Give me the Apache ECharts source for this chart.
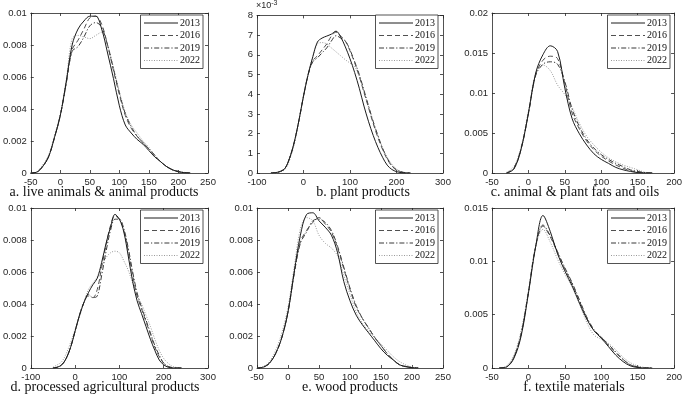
<!DOCTYPE html>
<html>
<head>
<meta charset="utf-8">
<script src="https://cdn.jsdelivr.net/npm/echarts@6/dist/echarts.min.js"></script>
<style>
  html, body { margin: 0; padding: 0; background: #fff; }
  #main { width: 685px; height: 399px; }
</style>
</head>
<body>
<div id="main"></div>
<script>
// years shown in every legend
const years = ['2013', '2016', '2019', '2022'];

// a. live animals & animal products
const xA = [-50,-40,-30,-20,-10,0,10,20,30,40,50,60,70,80,90,100,110,120,130,140,150,160,170,180,190,200,210,220];
const a2013 = [0,0.00005,0.0004,0.0010,0.0022,0.0036,0.0057,0.0080,0.0090,0.0095,0.0098,0.0098,0.0090,0.0075,0.0059,0.0042,0.0030,0.0025,0.0021,0.0018,0.0014,0.0010,0.0007,0.0004,0.0002,0.00007,0.00002,0];
const a2016 = [0,0.00005,0.0004,0.0010,0.0022,0.0036,0.0056,0.0077,0.0083,0.0090,0.0097,0.0098,0.0093,0.0080,0.0064,0.0049,0.0036,0.0028,0.0023,0.0019,0.0015,0.0011,0.0007,0.0004,0.0002,0.0001,0.00003,0];
const a2019 = [0,0.00005,0.0004,0.0010,0.0022,0.0036,0.0056,0.0076,0.0079,0.0085,0.0092,0.0094,0.0091,0.0080,0.0065,0.0050,0.0037,0.0029,0.0023,0.0019,0.0015,0.0011,0.0007,0.0004,0.0002,0.0001,0.00003,0];
const a2022 = [0,0.00008,0.0005,0.0011,0.0023,0.0037,0.0058,0.0084,0.0086,0.0085,0.0084,0.0086,0.0088,0.0080,0.0066,0.0051,0.0038,0.0030,0.0025,0.0020,0.0016,0.0011,0.0007,0.0004,0.0002,0.0001,0.00004,0];

// b. plant products (values in 10^-3)
const xB = [-70,-60,-50,-40,-30,-20,-10,0,10,20,30,40,50,60,70,80,90,100,110,120,130,140,150,160,170,180,190,200,210,220,230];
const b2013 = [0,0.02,0.08,0.23,0.75,1.55,2.65,3.9,5.0,5.9,6.65,6.85,6.95,7.05,7.2,6.9,6.4,5.8,5.1,4.3,3.4,2.6,1.9,1.3,0.8,0.4,0.18,0.07,0.02,0,0];
const b2016 = [0,0.02,0.08,0.23,0.75,1.55,2.65,3.9,5.0,5.7,5.95,6.25,6.55,6.95,7.15,6.95,6.7,6.2,5.6,4.9,4.1,3.3,2.5,1.8,1.2,0.7,0.35,0.15,0.05,0.01,0];
const b2019 = [0,0.02,0.08,0.23,0.75,1.55,2.65,3.9,5.0,5.65,5.85,6.1,6.35,6.7,6.97,6.85,6.7,6.25,5.65,5.0,4.2,3.4,2.6,1.9,1.25,0.75,0.38,0.16,0.06,0.01,0];
const b2022 = [0,0.01,0.05,0.18,0.65,1.45,2.6,3.9,5.0,5.9,6.55,6.62,6.55,6.35,6.15,5.95,5.75,5.58,5.4,4.9,4.1,3.35,2.6,1.9,1.3,0.8,0.45,0.2,0.08,0.02,0];

// c. animal & plant fats and oils
const xC = [-30,-20,-10,0,10,20,30,40,50,60,70,80,90,100,110,120,130,140,150,160,170];
const c2013 = [0,0.0005,0.0030,0.0075,0.0125,0.0148,0.0159,0.0152,0.0106,0.0068,0.0049,0.0035,0.0024,0.0017,0.0012,0.0007,0.0004,0.0002,0.00005,0,0];
const c2016 = [0,0.0005,0.0030,0.0074,0.0123,0.0141,0.0146,0.0143,0.0112,0.0075,0.0055,0.0040,0.0029,0.0021,0.0015,0.0010,0.0006,0.0003,0.0001,0.00003,0];
const c2019 = [0,0.0006,0.0031,0.0074,0.0122,0.0136,0.0139,0.0136,0.0114,0.0080,0.0058,0.0042,0.0031,0.0023,0.0017,0.0012,0.0008,0.0004,0.0002,0.00005,0];
const c2022 = [0.0001,0.0008,0.0033,0.0077,0.0124,0.0135,0.0128,0.0110,0.0098,0.0082,0.0062,0.0046,0.0035,0.0026,0.0019,0.0014,0.0010,0.0007,0.0004,0.0001,0];

// d. processed agricultural products
const xD = [-50,-40,-30,-20,-10,0,10,20,30,40,50,60,70,80,90,100,110,120,130,140,150,160,170,180,190,200,210,220,230,240];
const d2013 = [0,0.00005,0.0002,0.0006,0.0013,0.0023,0.0033,0.0041,0.0047,0.0052,0.0056,0.0066,0.0078,0.0088,0.0096,0.0093,0.0085,0.0070,0.0054,0.0042,0.0034,0.0026,0.0018,0.0011,0.0005,0.0002,0.00005,0,0,0];
const d2016 = [0,0.00005,0.0002,0.0006,0.0013,0.0023,0.0033,0.0041,0.0045,0.0044,0.0049,0.0063,0.0077,0.0089,0.0095,0.0093,0.0086,0.0073,0.0058,0.0045,0.0037,0.0029,0.0021,0.0013,0.0007,0.0003,0.0001,0.00002,0,0];
const d2019 = [0,0.00005,0.0002,0.0006,0.0013,0.0023,0.0033,0.0041,0.0046,0.0044,0.0045,0.0058,0.0073,0.0086,0.0093,0.0093,0.0087,0.0075,0.0060,0.0047,0.0038,0.0030,0.0022,0.0014,0.0008,0.0003,0.0001,0.00002,0,0];
const d2022 = [0.00005,0.0002,0.0004,0.0009,0.0016,0.0024,0.0032,0.0041,0.0049,0.0053,0.0057,0.0064,0.0069,0.0072,0.0073,0.0072,0.0067,0.0061,0.0053,0.0045,0.0040,0.0033,0.0026,0.0018,0.0011,0.0006,0.0003,0.0001,0.00003,0];

// e. wood products
const xE = [-50,-40,-30,-20,-10,0,10,20,30,40,50,60,70,80,90,100,110,120,130,140,150,160,170,180,190,200,210];
const e2013 = [0,0.00005,0.0003,0.0009,0.0019,0.0035,0.0060,0.0083,0.0096,0.0097,0.0092,0.0088,0.0083,0.0072,0.0054,0.0042,0.0033,0.0027,0.0022,0.0017,0.0012,0.0008,0.0005,0.0002,0.00008,0.00002,0];
const e2016 = [0,0.00005,0.0003,0.0009,0.0019,0.0035,0.0059,0.0079,0.0086,0.0091,0.0094,0.0090,0.0085,0.0075,0.0062,0.0049,0.0038,0.0031,0.0025,0.0019,0.0014,0.0009,0.0005,0.0002,0.0001,0.00003,0];
const e2019 = [0,0.00005,0.0003,0.0009,0.0019,0.0035,0.0059,0.0078,0.0085,0.0092,0.0093,0.0091,0.0086,0.0076,0.0063,0.0050,0.0039,0.0031,0.0025,0.0019,0.0014,0.0009,0.0005,0.0002,0.0001,0.00003,0];
const e2022 = [0,0.0001,0.0004,0.0011,0.0022,0.0038,0.0063,0.0087,0.0094,0.0092,0.0083,0.0078,0.0075,0.0070,0.0058,0.0046,0.0035,0.0028,0.0023,0.0019,0.0015,0.0011,0.0007,0.0004,0.0002,0.00006,0];

// f. textile materials
const xF = [-40,-30,-20,-10,0,10,20,30,40,50,60,70,80,90,100,110,120,130,140,150,160,170];
const f2013 = [0,0.0001,0.0009,0.0030,0.0070,0.0114,0.0143,0.0128,0.0107,0.0091,0.0077,0.0061,0.0046,0.0035,0.0028,0.0020,0.0012,0.0006,0.0002,0.00005,0,0];
const f2016 = [0,0.0001,0.0010,0.0032,0.0071,0.0114,0.0133,0.0123,0.0108,0.0093,0.0079,0.0063,0.0047,0.0035,0.0029,0.0021,0.0014,0.0008,0.0003,0.0001,0,0];
const f2019 = [0,0.0001,0.0010,0.0032,0.0071,0.0114,0.0134,0.0124,0.0109,0.0094,0.0080,0.0064,0.0048,0.0036,0.0029,0.0022,0.0015,0.0008,0.0003,0.0001,0,0];
const f2022 = [0,0.0002,0.0012,0.0035,0.0072,0.0114,0.0130,0.0118,0.0102,0.0088,0.0076,0.0060,0.0043,0.0031,0.0027,0.0023,0.0017,0.0010,0.0005,0.0002,0.00005,0];

const panels = [
  { title: 'a. live animals & animal products', x: xA, ys: [a2013, a2016, a2019, a2022], xr: [-50, 250, 50], yr: [0, 0.01, 0.002] },
  { title: 'b. plant products', x: xB, ys: [b2013, b2016, b2019, b2022], xr: [-100, 300, 100], yr: [0, 8, 1], exp: true },
  { title: 'c. animal & plant fats and oils', x: xC, ys: [c2013, c2016, c2019, c2022], xr: [-50, 200, 50], yr: [0, 0.02, 0.005] },
  { title: 'd. processed agricultural products', x: xD, ys: [d2013, d2016, d2019, d2022], xr: [-100, 300, 100], yr: [0, 0.01, 0.002] },
  { title: 'e. wood products', x: xE, ys: [e2013, e2016, e2019, e2022], xr: [-50, 250, 50], yr: [0, 0.01, 0.002] },
  { title: 'f. textile materials', x: xF, ys: [f2013, f2016, f2019, f2022], xr: [-50, 200, 50], yr: [0, 0.015, 0.005] }
];

// plot boxes: left, top, width, height, title centre x
const boxes = [
  [26, 13, 182, 160, 104],
  [257, 13, 186, 160, 363],
  [492, 13, 183, 160, 575],
  [26, 208, 182, 160, 105],
  [257, 208, 186, 160, 350],
  [492, 208, 183, 160, 574]
];

const lineLooks = [
  { color: '#1c1c1c', width: 1, type: 'solid' },
  { color: '#505050', width: 1, type: [5, 3] },
  { color: '#383838', width: 1, type: [5, 2, 1.2, 2] },
  { color: '#9a9a9a', width: 1, type: [1, 1.5] }
];

const axisCol = '#262626';
const sans = '"Liberation Sans", Arial, sans-serif';
const serif = '"Liberation Serif", "Times New Roman", serif';

let grid = [], xAxis = [], yAxis = [], series = [], legend = [], graphic = [];

panels.forEach(function (p, i) {
  const b = boxes[i];
  grid.push({ left: b[0], top: b[1], width: b[2], height: b[3], containLabel: false });

  const xBase = {
    type: 'value', gridIndex: i, min: p.xr[0], max: p.xr[1], interval: p.xr[2],
    splitLine: { show: false },
    axisLine: { show: true, onZero: false, lineStyle: { color: axisCol, width: 0.8 } },
    axisTick: { show: true, inside: true, length: 3, lineStyle: { color: axisCol, width: 0.8 } }
  };
  xAxis.push(Object.assign({}, xBase, {
    position: 'bottom',
    axisLabel: { show: true, color: axisCol, fontSize: 9.5, fontFamily: sans, margin: 4 }
  }));
  xAxis.push(Object.assign({}, xBase, { position: 'top', axisLabel: { show: false } }));

  const yBase = {
    type: 'value', gridIndex: i, min: p.yr[0], max: p.yr[1], interval: p.yr[2],
    splitLine: { show: false },
    axisLine: { show: true, onZero: false, lineStyle: { color: axisCol, width: 0.8 } },
    axisTick: { show: true, inside: true, length: 3, lineStyle: { color: axisCol, width: 0.8 } }
  };
  const yLeft = Object.assign({}, yBase, {
    position: 'left',
    axisLabel: { show: true, color: axisCol, fontSize: 9.5, fontFamily: sans, margin: 4 }
  });
  if (p.exp) {
    yLeft.name = '×10{s|-3}';
    yLeft.nameLocation = 'end';
    yLeft.nameGap = 3;
    yLeft.nameTextStyle = {
      align: 'left', color: axisCol, fontSize: 9, fontFamily: sans, padding: [0, 0, 0, -1],
      rich: { s: { fontSize: 7, verticalAlign: 'top', padding: [0, 0, 5, 0], color: axisCol, fontFamily: sans } }
    };
  }
  yAxis.push(yLeft);
  yAxis.push(Object.assign({}, yBase, { position: 'right', axisLabel: { show: false } }));

  years.forEach(function (yr, k) {
    series.push({
      name: yr,
      type: 'line',
      xAxisIndex: 2 * i,
      yAxisIndex: 2 * i,
      data: p.x.map(function (xv, j) { return [xv, p.ys[k][j]]; }),
      symbol: 'none',
      showSymbol: false,
      smooth: 0.35,
      lineStyle: lineLooks[k],
      itemStyle: { color: lineLooks[k].color, opacity: 0 },
      z: 10 - k
    });
  });

  legend.push({
    data: years,
    orient: 'vertical',
    right: 685 - (b[0] + b[2]) + 5,
    top: b[1] + 2,
    itemWidth: 34,
    itemHeight: 10,
    itemGap: 2.5,
    padding: [3, 3, 3, 3],
    backgroundColor: '#fff',
    borderColor: axisCol,
    borderWidth: 0.8,
    borderRadius: 0,
    selectedMode: false,
    itemStyle: { opacity: 0, borderWidth: 0 },
    lineStyle: { width: 1 },
    textStyle: { fontSize: 10, fontFamily: serif, color: '#111', padding: [0, 0, 0, -3] },
    z: 20
  });

  graphic.push({
    type: 'text',
    x: b[4],
    y: b[1] + b[3] + 19,
    style: {
      text: p.title,
      font: '14px ' + serif,
      fill: '#111',
      textAlign: 'center',
      textVerticalAlign: 'middle'
    }
  });
});

const chart = echarts.init(document.getElementById('main'));
chart.setOption({
  animation: false,
  backgroundColor: '#fff',
  grid: grid,
  xAxis: xAxis,
  yAxis: yAxis,
  legend: legend,
  series: series,
  graphic: graphic
});
</script>
</body>
</html>
